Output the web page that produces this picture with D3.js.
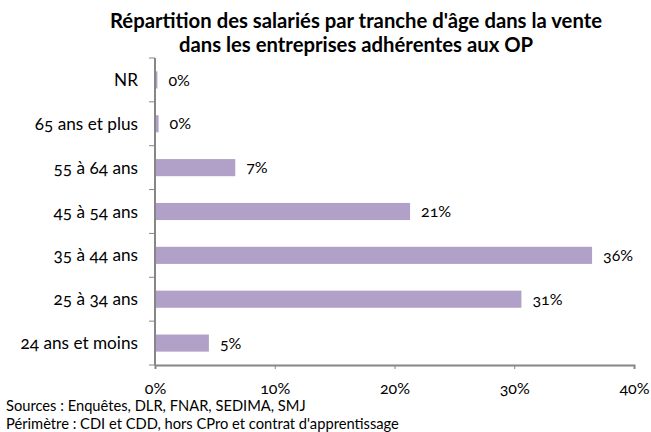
<!DOCTYPE html>
<html>
<head>
<meta charset="utf-8">
<script src="https://cdn.jsdelivr.net/npm/d3@7"></script>
<style>
  body { margin: 0; background: #fff; }
  svg text { font-family: Lato, "Open Sans", sans-serif; font-variant-numeric: oldstyle-nums; fill: #000; }
</style>
</head>
<body>
<div id="chart"></div>
<script>
// --- data (top to bottom) ---
const categories = ["NR", "65 ans et plus", "55 à 64 ans", "45 à 54 ans", "35 à 44 ans", "25 à 34 ans", "24 ans et moins"];
const values = [0.2, 0.3, 6.7, 21.3, 36.5, 30.6, 4.5];
const valueLabels = ["0%", "0%", "7%", "21%", "36%", "31%", "5%"];
const xTicks = [0, 10, 20, 30, 40];
const titleLines = ["Répartition des salariés par tranche d'âge dans la vente", "dans les entreprises adhérentes aux OP"];
const notes = ["Sources : Enquêtes, DLR, FNAR, SEDIMA, SMJ", "Périmètre : CDI et CDD, hors CPro et contrat d'apprentissage"];

const width = 651, height = 432;
const plot = { left: 155, right: 634, top: 58, bottom: 365 };
const barColor = "#B1A0C7";
const axisColor = "#868686";

const svg = d3.select("#chart").append("svg")
  .attr("width", width)
  .attr("height", height);

// scales
const x = d3.scaleLinear().domain([0, 40]).range([plot.left, plot.right]);
const y = d3.scaleBand().domain(categories).range([plot.top, plot.bottom])
  .paddingInner(0.61).paddingOuter(0.305);

// title
svg.append("text")
  .attr("x", 356).attr("y", 28)
  .attr("text-anchor", "middle")
  .style("font-size", "20.3px").style("font-weight", "bold")
  .selectAll("tspan").data(titleLines).join("tspan")
  .attr("x", 356).attr("dy", (d, i) => i ? 24 : 0)
  .text(d => d);

// bars
svg.selectAll("rect.bar").data(categories).join("rect")
  .attr("class", "bar")
  .attr("x", x(0))
  .attr("y", d => y(d))
  .attr("width", (d, i) => x(values[i]) - x(0))
  .attr("height", y.bandwidth())
  .attr("fill", barColor);

// value labels
svg.selectAll("text.val").data(categories).join("text")
  .attr("class", "val")
  .attr("x", (d, i) => x(values[i]) + 11)
  .attr("y", d => y(d) + y.bandwidth() / 2)
  .attr("dy", "0.35em")
  .style("font-size", "16px")
  .text((d, i) => valueLabels[i]);

// category axis (ticks between categories)
const yAxis = svg.append("g");
yAxis.append("line")
  .attr("x1", x(0)).attr("x2", x(0))
  .attr("y1", plot.top).attr("y2", plot.bottom)
  .attr("stroke", axisColor).attr("stroke-width", 2);
yAxis.selectAll("line.tick").data(d3.range(categories.length + 1)).join("line")
  .attr("class", "tick")
  .attr("x1", x(0) - 6).attr("x2", x(0))
  .attr("y1", i => plot.top + i * y.step())
  .attr("y2", i => plot.top + i * y.step())
  .attr("stroke", axisColor).attr("stroke-width", 1);
yAxis.selectAll("text").data(categories).join("text")
  .attr("x", 138)
  .attr("y", d => y(d) + y.bandwidth() / 2)
  .attr("dy", "0.35em")
  .attr("text-anchor", "end")
  .style("font-size", "17.2px")
  .text(d => d);

// value axis
const xAxis = svg.append("g")
  .attr("transform", `translate(0,${plot.bottom})`)
  .call(d3.axisBottom(x).tickValues(xTicks).tickFormat(d => d + "%").tickSize(4).tickPadding(14));
xAxis.select(".domain").attr("stroke", axisColor).attr("stroke-width", 2);
xAxis.selectAll(".tick line").attr("stroke", axisColor);
xAxis.selectAll(".tick text")
  .style("font-family", "Lato, 'Open Sans', sans-serif")
  .style("font-size", "16px")
  .attr("fill", "#000");

// footnotes
svg.selectAll("text.note").data(notes).join("text")
  .attr("class", "note")
  .attr("x", 6)
  .attr("y", (d, i) => 411 + i * 18)
  .style("font-size", "14.7px")
  .text(d => d);
</script>
</body>
</html>
